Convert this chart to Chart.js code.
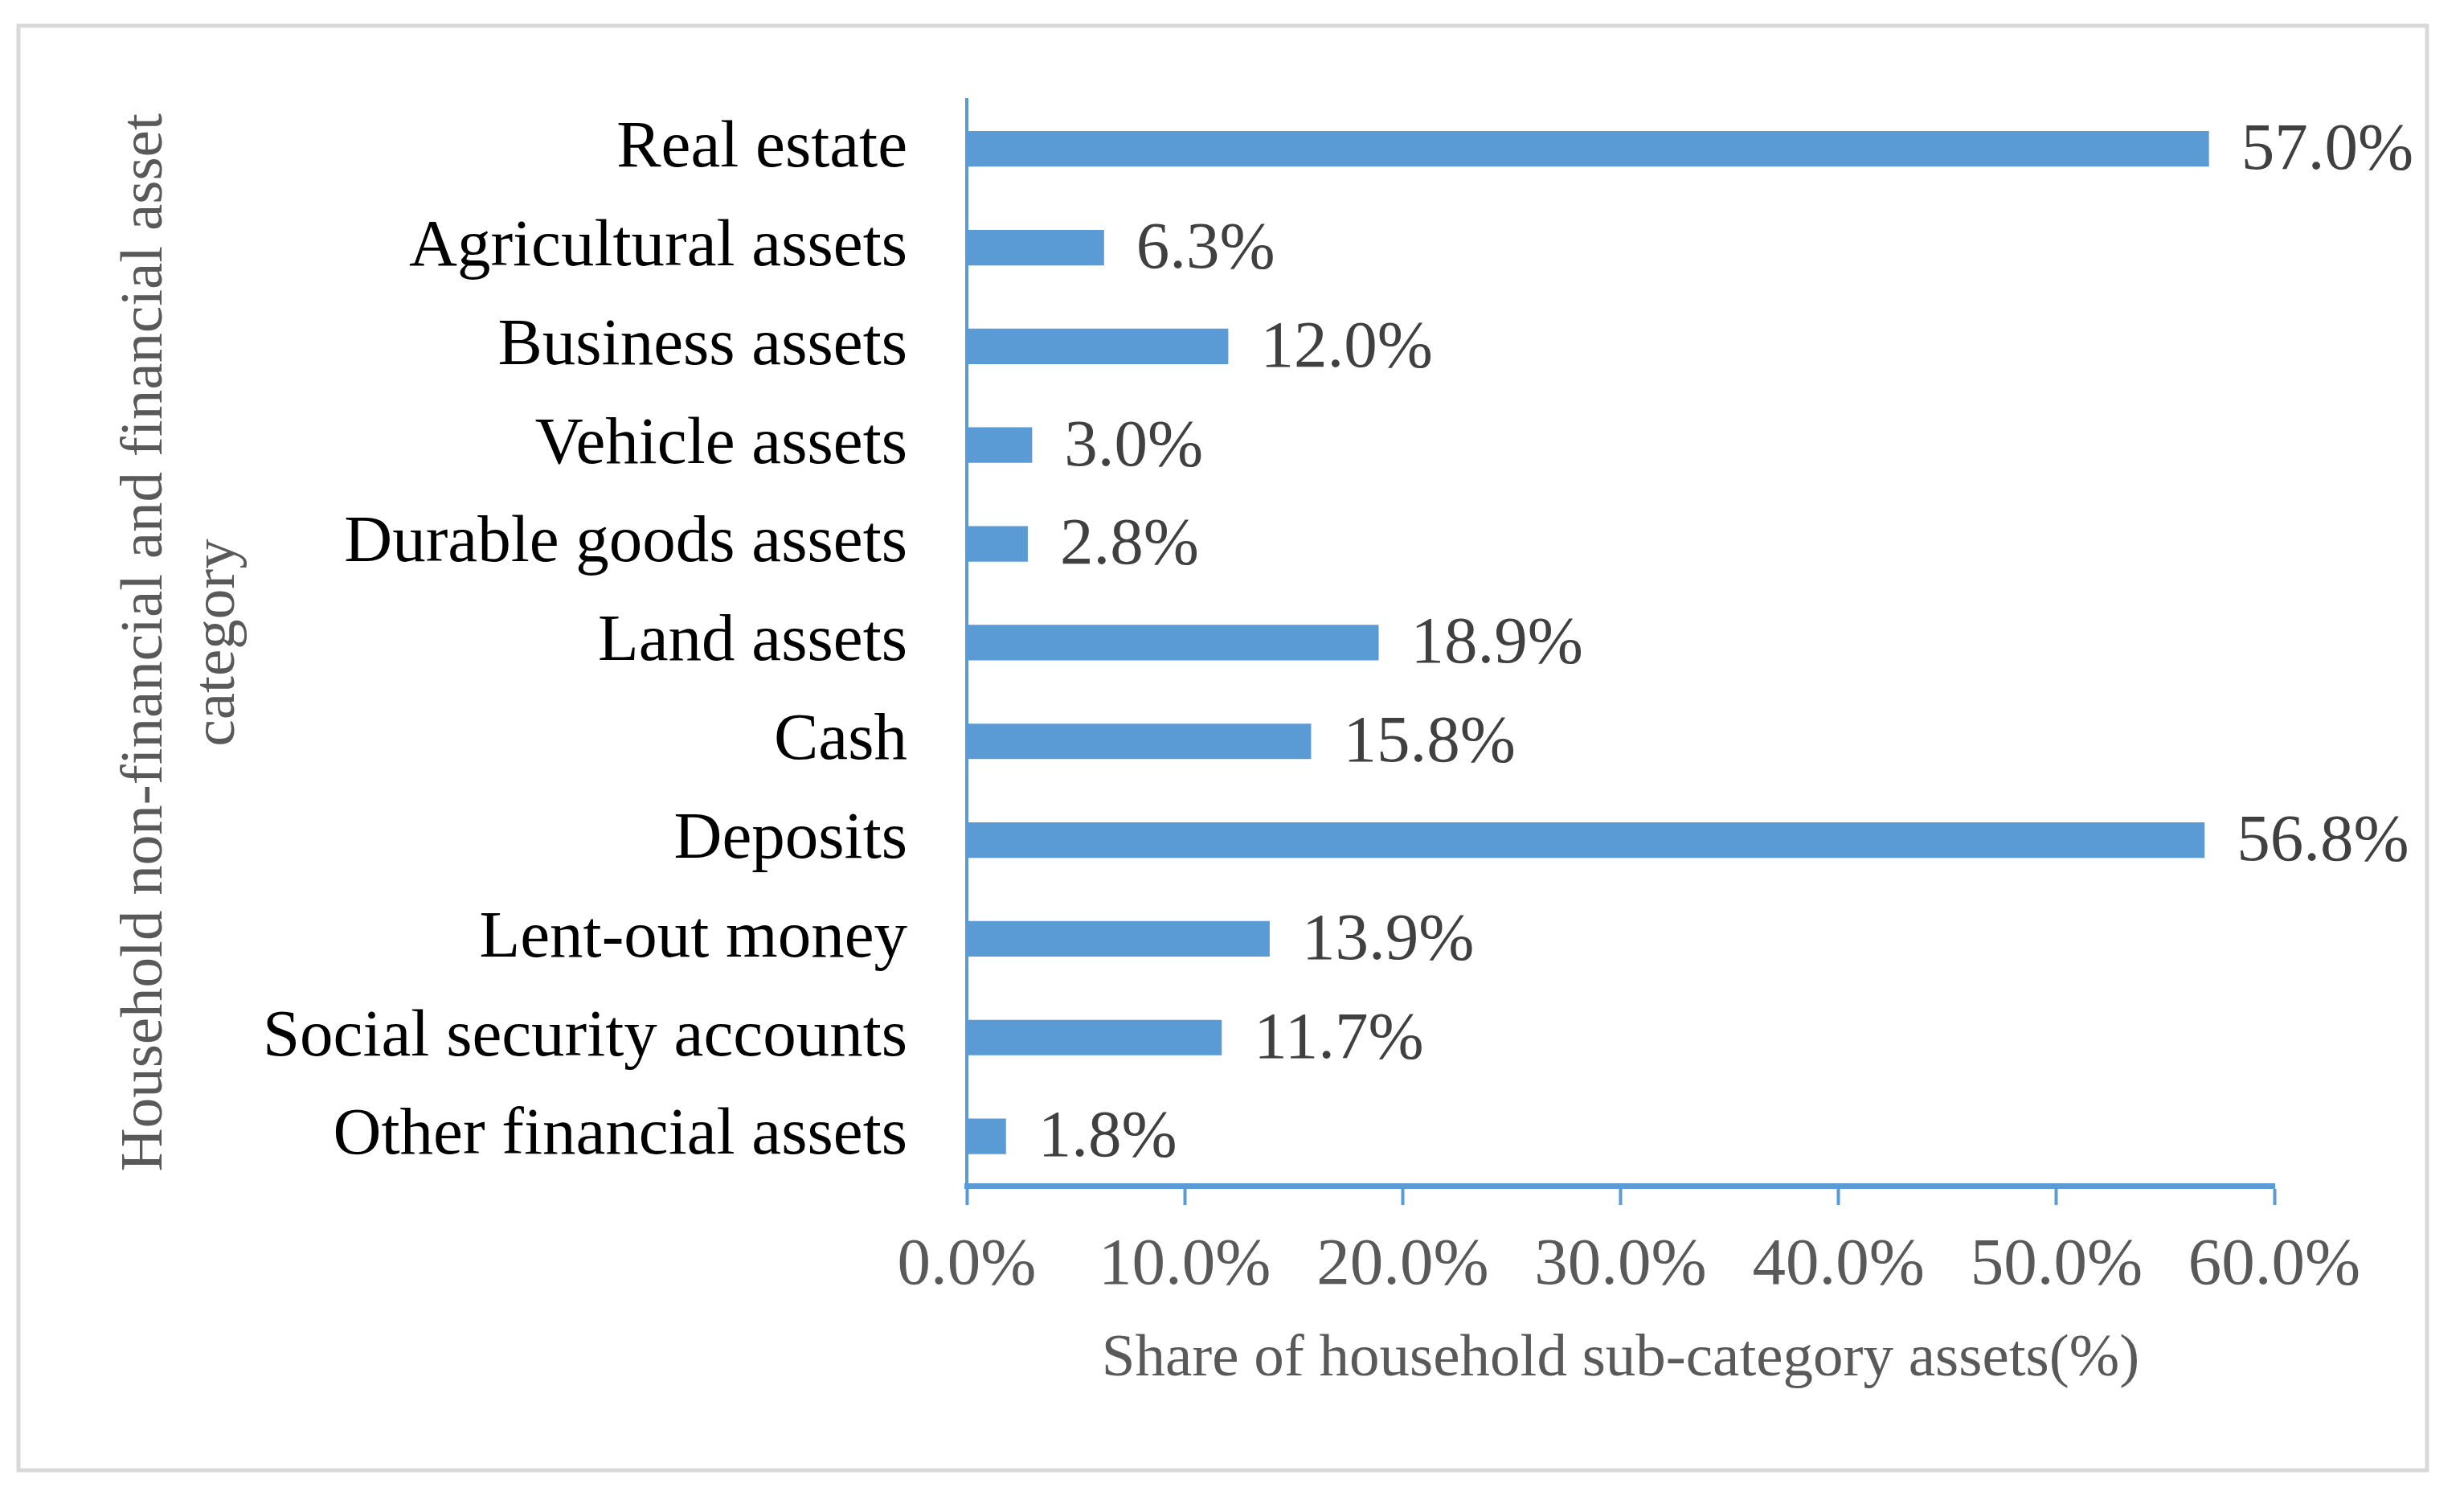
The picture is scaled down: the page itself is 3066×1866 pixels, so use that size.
<!DOCTYPE html>
<html>
<head>
<meta charset="utf-8">
<script src="https://cdn.jsdelivr.net/npm/chart.js@4"></script>
<style>
  html, body { margin: 0; padding: 0; background: #fff; }
  #wrap { width: 3066px; height: 1866px; position: relative; }
</style>
</head>
<body>
<div id="wrap"><canvas id="Chart" width="3066" height="1866"></canvas></div>
<script>
const categories = ["Real estate", "Agricultural assets", "Business assets", "Vehicle assets",
  "Durable goods assets", "Land assets", "Cash", "Deposits", "Lent-out money",
  "Social security accounts", "Other financial assets"];
const shares = [57.0, 6.3, 12.0, 3.0, 2.8, 18.9, 15.8, 56.8, 13.9, 11.7, 1.8];
const xTicks = [0, 10, 20, 30, 40, 50, 60];
const yTitle = ["Household non-financial and financial asset", "category"];
const xTitle = "Share of household sub-category assets(%)";

const serif = "'Liberation Serif', 'Times New Roman', serif";
const blue = "#5b9bd5";

// light grey frame round the whole figure
const framePlugin = {
  id: "frame",
  beforeDraw(chart) {
    const ctx = chart.ctx;
    ctx.save();
    ctx.fillStyle = "#fff";
    ctx.fillRect(0, 0, chart.width, chart.height);
    ctx.strokeStyle = "#d9d9d9";
    ctx.lineWidth = 5;
    ctx.strokeRect(23, 32, 2997, 1797);
    ctx.restore();
  }
};

// value labels at the end of each bar
const valuePlugin = {
  id: "values",
  afterDatasetsDraw(chart) {
    const ctx = chart.ctx;
    const meta = chart.getDatasetMeta(0);
    ctx.save();
    ctx.fillStyle = "#404040";
    ctx.font = "83px " + serif;
    ctx.textAlign = "left";
    ctx.textBaseline = "middle";
    meta.data.forEach((bar, i) => {
      ctx.fillText(shares[i].toFixed(1) + "%", bar.x + 40, bar.y + 3);
    });
    ctx.restore();
  }
};

new Chart("Chart", {
  type: "bar",
  data: {
    labels: categories,
    datasets: [{
      data: shares,
      backgroundColor: blue,
      borderWidth: 0,
      barPercentage: 0.36,
      categoryPercentage: 1
    }]
  },
  plugins: [framePlugin, valuePlugin],
  options: {
    indexAxis: "y",
    responsive: false,
    animation: false,
    devicePixelRatio: 1,
    layout: { padding: { left: 40, right: 236, top: 121, bottom: 100 } },
    plugins: {
      legend: { display: false },
      tooltip: { enabled: false }
    },
    scales: {
      y: {
        afterFit(scale) { scale.width = 1203 - 40; },
        grid: { display: false, drawTicks: false },
        border: { display: true, color: blue, width: 4 },
        ticks: {
          color: "#000",
          padding: 74,
          font: { family: serif, size: 83 }
        },
        title: {
          display: true,
          text: yTitle,
          color: "#595959",
          padding: { top: 96, bottom: 0 },
          font: { family: serif, size: 75, lineHeight: 1.2 }
        }
      },
      x: {
        min: 0,
        max: 60,
        afterFit(scale) { scale.height = 1866 - 100 - 1475; },
        afterBuildTicks(scale) { scale.ticks = xTicks.map(v => ({ value: v })); },
        grid: {
          display: true,
          drawOnChartArea: false,
          drawTicks: true,
          tickLength: 24,
          tickWidth: 4,
          tickColor: blue,
          color: blue
        },
        border: { display: true, color: blue, width: 7 },
        ticks: {
          color: "#595959",
          padding: 26,
          maxRotation: 0,
          font: { family: serif, size: 83 },
          callback: v => v.toFixed(1) + "%"
        },
        title: {
          display: true,
          text: xTitle,
          color: "#595959",
          padding: { top: 0, bottom: 30 },
          font: { family: serif, size: 75, lineHeight: 1.2 }
        }
      }
    }
  }
});
</script>
</body>
</html>
